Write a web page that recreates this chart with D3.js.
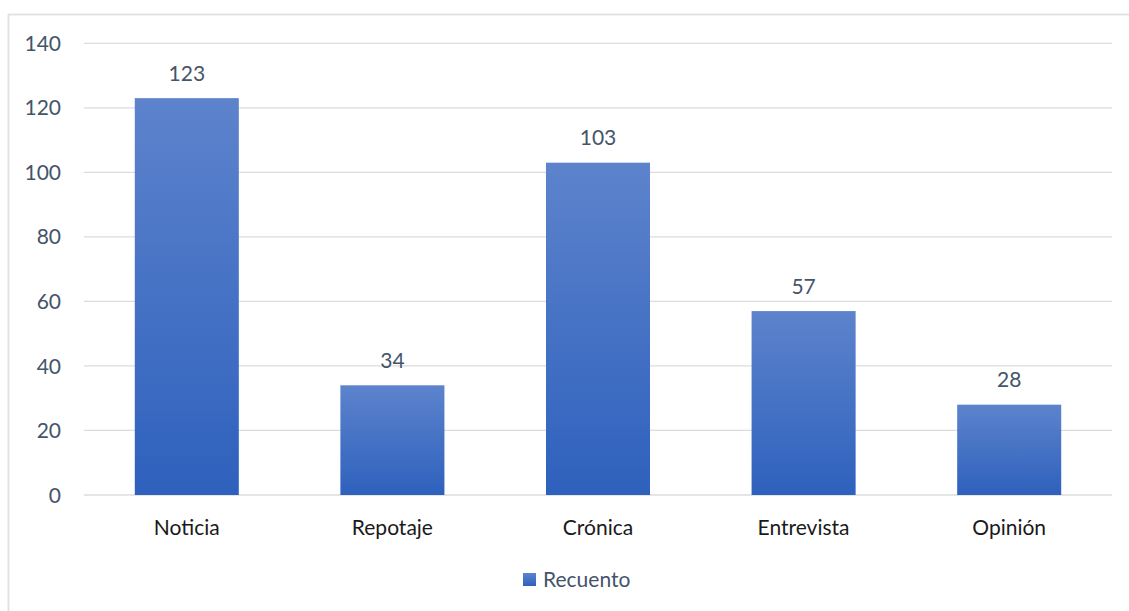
<!DOCTYPE html>
<html><head><meta charset="utf-8">
<script src="https://cdn.jsdelivr.net/npm/d3@7"></script>
<style>body{margin:0;background:#fff;}svg{display:block;font-family:Lato,"Open Sans",sans-serif;}</style>
</head><body>
<svg id="c" width="1129" height="611"></svg>
<script>
const categories = ["Noticia","Repotaje","Crónica","Entrevista","Opinión"];
const values = [123,34,103,57,28];
const yTicks = [0,20,40,60,80,100,120,140];
const seriesName = "Recuento";

const svg = d3.select("#c");
svg.append("rect").attr("x",8.5).attr("y",14.5).attr("width",1140).attr("height",620)
  .attr("fill","#fff").attr("stroke","#dfe3e8").attr("stroke-width",2);

const defs = svg.append("defs");
const g = defs.append("linearGradient").attr("id","bg").attr("x1",0).attr("y1",0).attr("x2",0).attr("y2",1);
g.append("stop").attr("offset","0%").attr("stop-color","#5d83cc");
g.append("stop").attr("offset","100%").attr("stop-color","#2e61bd");

const x = d3.scaleBand().domain(categories).range([84,1112]).paddingInner(0.494).paddingOuter(0.247);
const y = d3.scaleLinear().domain([0,140]).range([495,43.3]);

svg.append("g").selectAll("line").data(yTicks).join("line")
  .attr("x1",84).attr("x2",1112).attr("y1",d=>y(d)).attr("y2",d=>y(d))
  .attr("stroke","#dcdcdc").attr("stroke-width",1.3);

svg.append("g").selectAll("text").data(yTicks).join("text")
  .attr("x",61).attr("y",d=>y(d)).attr("dy","0.36em").attr("text-anchor","end")
  .attr("fill","#44546a").attr("font-size",21).text(d=>d);

svg.append("g").selectAll("rect").data(values).join("rect")
  .attr("x",(d,i)=>x(categories[i])).attr("width",x.bandwidth())
  .attr("y",d=>y(d)).attr("height",d=>y(0)-y(d)).attr("fill","url(#bg)");

svg.append("g").selectAll("text").data(values).join("text")
  .attr("x",(d,i)=>x(categories[i])+x.bandwidth()/2).attr("y",d=>y(d)-25).attr("dy","0.36em")
  .attr("text-anchor","middle").attr("fill","#44546a").attr("font-size",21).text(d=>d);

svg.append("g").selectAll("text").data(categories).join("text")
  .attr("x",d=>x(d)+x.bandwidth()/2).attr("y",527).attr("dy","0.36em")
  .attr("text-anchor","middle").attr("fill","#1a1a1a").attr("font-size",21).text(d=>d);

const lg = svg.append("g");
lg.append("rect").attr("x",523).attr("y",573).attr("width",13).attr("height",13).attr("fill","url(#bg)");
lg.append("text").attr("x",543).attr("y",579.5).attr("dy","0.36em").attr("fill","#44546a").attr("font-size",21).text(seriesName);
</script>
</body></html>
